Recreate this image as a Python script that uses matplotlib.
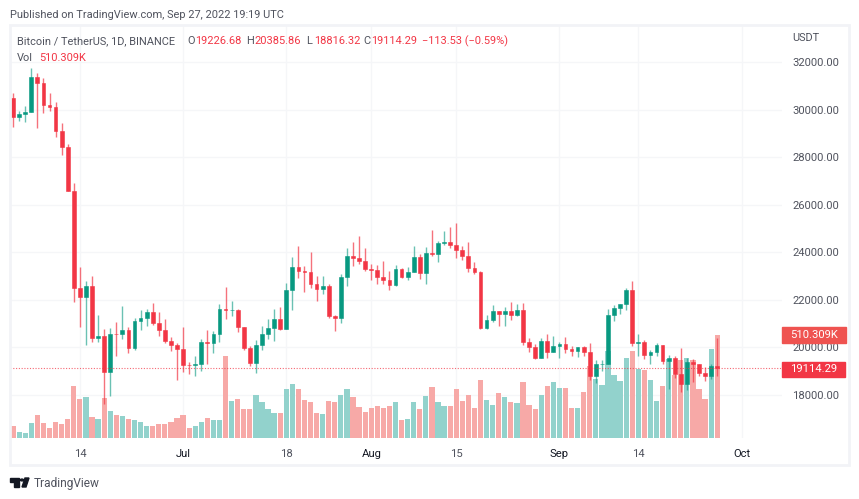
import matplotlib
matplotlib.use('Agg')
import matplotlib.pyplot as plt
import matplotlib.patches as patches
import matplotlib.dates as mdates
import numpy as np
import pandas as pd

plt.rcParams['font.family'] = ['Roboto', 'DejaVu Sans']

W, H = 859, 499

opens = [30467, 29704, 29832, 29906, 31370, 31125, 30204, 30109, 29091, 28424, 26574, 22485,
         22136, 22583, 20400, 20468, 18970, 20574, 20573, 20723, 19988, 21110, 21237, 21491,
         21038, 20742, 20281, 20123, 19942, 19279, 19243, 19297, 20231, 20175, 20548, 21624,
         21590, 21592, 20861, 19970, 19329, 20097, 20548, 20836, 21190, 20780, 22430, 23396,
         23223, 23152, 22684, 22451, 22579, 21310, 21254, 22957, 23845, 23777, 23643, 23296,
         23266, 22978, 22818, 22622, 23313, 22954, 23175, 23810, 23150, 23954, 23934, 24402,
         24443, 24305, 24094, 23857, 23342, 23191, 20834, 21140, 21516, 21400, 21529, 21368,
         21560, 20239, 20037, 19555, 20286, 19812, 20050, 20132, 19951, 19832, 20000, 19796,
         18790, 19292, 19320, 21361, 21648, 21826, 22395, 20173, 20227, 19701, 19803, 20112,
         19417, 19538, 18874, 18461, 19401, 19288, 18920, 18807, 19226.68]
highs = [30698, 29955, 30150, 31765, 31550, 31330, 30700, 30330, 29440, 28544, 26895, 23362,
         22800, 22995, 21365, 20792, 20815, 21090, 21723, 20871, 21233, 21558, 21614, 21868,
         21478, 21210, 20432, 20179, 20876, 19400, 19650, 20354, 20750, 20675, 21838, 22527,
         21954, 21600, 20868, 20059, 20300, 20881, 21200, 21600, 21690, 22720, 23800, 24276,
         23442, 24000, 22999, 23014, 22663, 21347, 23100, 24199, 24442, 24668, 24194, 23509,
         23463, 23647, 23223, 23467, 23354, 23400, 24245, 23933, 24226, 24918, 24456, 24888,
         25047, 25214, 24247, 24446, 23600, 23208, 21382, 21800, 21522, 21700, 21900, 21819,
         21886, 20402, 20141, 20400, 20577, 20490, 20208, 20440, 20054, 20029, 20055, 20180,
         19464, 19458, 21600, 21800, 21833, 22488, 22800, 20550, 20330, 19888, 20192, 20115,
         19686, 19634, 19956, 19550, 19500, 19316, 19180, 19311, 20385.86]
lows = [29282, 29500, 29485, 29878, 29218, 29843, 29944, 28850, 28099, 26560, 21925, 20846,
        20111, 20232, 20246, 17622, 17960, 19637, 20348, 19770, 19890, 20740, 20906, 20960,
        20500, 20202, 19846, 18626, 18975, 18900, 18781, 19000, 19304, 19761, 20238, 21189,
        21320, 20652, 19875, 19240, 18910, 19900, 20370, 20250, 20750, 20760, 21580, 22906,
        22340, 22500, 21934, 22258, 21250, 20706, 21040, 22580, 23414, 23503, 23229, 22850,
        22664, 22681, 22400, 22588, 22909, 22855, 23154, 22865, 22664, 23852, 23583, 24296,
        24200, 23773, 23671, 23180, 23100, 20783, 20761, 21069, 20890, 20890, 21154, 21310,
        20107, 19800, 19520, 19555, 19540, 19800, 19565, 19750, 19655, 19600, 19636, 18649,
        18510, 19012, 19291, 21100, 21400, 21555, 20062, 19650, 19497, 19320, 19630, 19300,
        18232, 18711, 18125, 18200, 18530, 18805, 18600, 18680, 18816.32]
closes = [29704, 29832, 29906, 31370, 31125, 30204, 30109, 29091, 28424, 26574, 22487, 22136,
          22583, 20401, 20468, 18970, 20574, 20573, 20723, 19987, 21110, 21237, 21491, 21038,
          20742, 20281, 20123, 19942, 19279, 19242, 19297, 20231, 20175, 20564, 21624, 21594,
          21591, 20860, 19970, 19329, 20097, 20548, 20836, 21190, 20780, 22430, 23396, 23223,
          23152, 22684, 22451, 22579, 21310, 21254, 22957, 23845, 23777, 23643, 23293, 23269,
          22978, 22818, 22622, 23312, 22954, 23175, 23810, 23149, 23954, 23934, 24403, 24441,
          24305, 24094, 23854, 23342, 23191, 20834, 21140, 21515, 21400, 21528, 21368, 21560,
          20241, 20037, 19555, 20285, 19811, 20050, 20131, 19952, 19832, 20000, 19796, 18790,
          19292, 19319, 21361, 21648, 21826, 22395, 20173, 20226, 19701, 19803, 20113, 19416,
          19538, 18875, 18461, 19402, 19289, 18920, 18807, 19227, 19114.29]
# thousands
volumes = [58, 31, 26, 74, 114, 74, 51, 81, 71, 96, 256, 191,
           203, 104, 92, 198, 135, 115, 107, 96, 89, 81, 58, 58,
           71, 69, 81, 99, 115, 51, 58, 81, 100, 89, 89, 406,
           183, 195, 142, 142, 213, 180, 144, 125, 122, 243, 267, 241,
           188, 177, 125, 119, 183, 180, 213, 241, 203, 153, 130, 148,
           160, 148, 157, 180, 89, 92, 177, 144, 210, 252, 177, 157,
           157, 243, 183, 213, 148, 285, 186, 163, 224, 203, 178, 172,
           276, 165, 142, 215, 259, 279, 249, 249, 150, 150, 226, 355,
           292, 264, 432, 310, 284, 398, 432, 343, 337, 287, 183, 257,
           391, 313, 388, 396, 388, 241, 195, 441, 510.309]

price_ticks = [18000, 20000, 22000, 24000, 26000, 28000, 30000, 32000]
date_ticks = ['2022-06-14', '2022-07-01', '2022-07-18', '2022-08-01', '2022-08-15',
              '2022-09-01', '2022-09-14', '2022-10-01']
date_labels = ['14', 'Jul', '18', 'Aug', '15', 'Sep', '14', 'Oct']

UP = '#089981'
DOWN = '#F23645'
UP_VOL = '#92D2CC'
DOWN_VOL = '#F7A9A7'
GRID = '#f5f6f8'
BORDER = '#f2f3f7'


def px(x, y):
    return x / W, 1 - y / H


fig = plt.figure(figsize=(W / 100, H / 100), dpi=100, facecolor='white')

# plot pane, in pixels
left, right, top, bottom = 10, 782, 26, 438
rect = [left / W, 1 - bottom / H, (right - left) / W, (bottom - top) / H]
ax_vol = fig.add_axes(rect)
ax = fig.add_axes(rect, sharex=ax_vol)
ax.patch.set_alpha(0)

dates = pd.date_range('2022-06-03', periods=len(closes))
x = mdates.date2num(dates)
o, h, l, c = map(np.array, (opens, highs, lows, closes))
up = c >= o
day_px = 6.07
x0 = mdates.date2num(pd.Timestamp('2022-10-01'))
ax_vol.set_xlim(x0 - (741.5 - left) / day_px, x0 + (right - 741.5) / day_px)

# volume
ax_vol.bar(x, volumes, width=0.86, color=np.where(up, UP_VOL, DOWN_VOL))
ax_vol.set_ylim(0, 510.309 * (bottom - top) / 103)
ax_vol.set_yticks([])

# grid goes under the bars
tick_x = mdates.date2num(pd.to_datetime(date_ticks))
ax_vol.set_axisbelow(True)
ax_vol.set_xticks(tick_x)
ax_vol.grid(axis='x', color=GRID, lw=1)

scale = (395 - 62) / 14000
ax.set_ylim(18000 - (bottom - 395) / scale, 32000 + (62 - top) / scale)
ax.set_yticks(price_ticks)
ax.set_yticklabels([f'{p:.2f}' for p in price_ticks])
for p in price_ticks:
    ax_vol.axhline((p - ax.get_ylim()[0]) / (ax.get_ylim()[1] - ax.get_ylim()[0]) * ax_vol.get_ylim()[1],
                   color=GRID, lw=1, zorder=0)

# candles
ax.vlines(x[up], l[up], h[up], color=UP, lw=1, alpha=0.6)
ax.vlines(x[~up], l[~up], h[~up], color=DOWN, lw=1, alpha=0.7)
ax.bar(x[up], (c - o)[up], bottom=o[up], width=0.62, color=UP, edgecolor=UP, lw=0.4)
ax.bar(x[~up], (o - c)[~up], bottom=c[~up], width=0.62, color=DOWN, edgecolor=DOWN, lw=0.4)

ax.axhline(closes[-1], color=DOWN, lw=0.8, ls=(0, (1, 1.5)), alpha=0.75)

for a in (ax, ax_vol):
    for s in a.spines.values():
        s.set_visible(False)
ax.yaxis.tick_right()
ax.tick_params(axis='y', length=0, pad=7.5, labelsize=8.1, labelcolor='#50535e')
ax.tick_params(axis='x', length=0, labelbottom=False)
ax_vol.tick_params(axis='x', length=0, pad=8, labelsize=8.1, labelcolor='#50535e')
ax_vol.set_xticklabels(date_labels)
for lab, name in zip(ax_vol.get_xticklabels(), date_labels):
    if not name.isdigit():
        lab.set_color('#131722')

# outer frame
fig.add_artist(patches.Rectangle(px(10, 465), 839 / W, 440 / H, transform=fig.transFigure,
                                 fill=False, edgecolor=BORDER, lw=2))

# header texts
TXT = '#50535e'
fs = 7.95


def put(xp, yp, s, color=TXT, size=fs, **kw):
    fig.text(*px(xp, yp), s, color=color, fontsize=size, va='center', ha='left', **kw)


put(10, 15, 'Published on TradingView.com, Sep 27, 2022 19:19 UTC')
put(17, 41, 'Bitcoin / TetherUS, 1D, BINANCE')
put(17, 58, 'Vol')
put(39, 58, '510.309K', DOWN)
for xp, name, value in [(187, 'O', '19226.68'), (246, 'H', '20385.86'),
                        (306, 'L', '18816.32'), (363, 'C', '19114.29')]:
    put(xp, 41, name)
    put(xp + 8, 41, value, DOWN)
put(422, 41, '\u2212113.53 (\u22120.59%)', DOWN)
put(792, 38, 'USDT')

# last value labels on the price scale
for y0, y1, xr, col, s in [(327, 343, 846, '#EF5350', '510.309K'), (362, 377, 845, DOWN, '19114.29')]:
    fig.add_artist(patches.Rectangle(px(782, y1), (xr - 782) / W, (y1 - y0) / H,
                                     transform=fig.transFigure, color=col))
    fig.text(*px((782 + xr) / 2, (y0 + y1) / 2), s, color='white', fontsize=8.1,
             ha='center', va='center')

# logo
DARK = '#131722'
for shape in [
    patches.Polygon([px(10, 478), px(19, 478), px(19, 487), px(14, 487), px(14, 481.5), px(10, 481.5)]),
    patches.Circle(px(22, 480), 1.6 / W),
    patches.Polygon([px(25, 478), px(29, 478), px(26, 487), px(22, 487)]),
]:
    shape.set(transform=fig.transFigure, color=DARK)
    fig.add_artist(shape)
fig.text(*px(34, 483), 'TradingView', color='#50535e', fontsize=8.6, va='center', ha='left')

fig.savefig('out.png', dpi=100)
